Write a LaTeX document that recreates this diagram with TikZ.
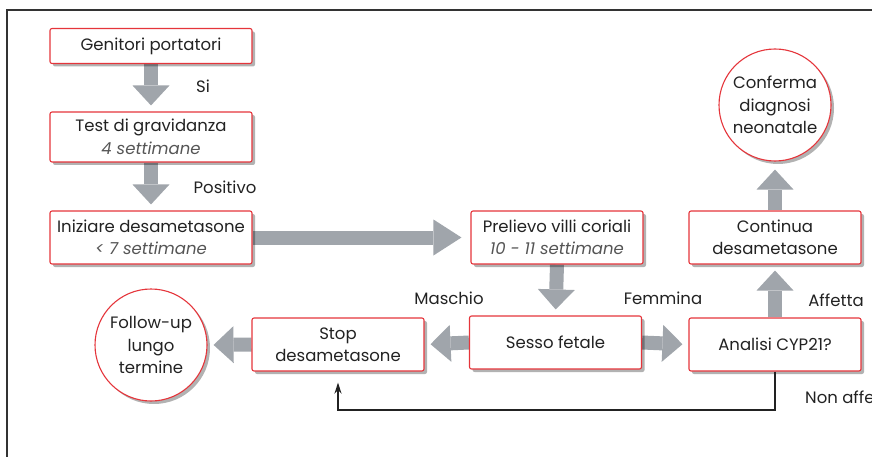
\documentclass[tikz,border=0pt]{standalone}
\usepackage{fontspec}
\setmainfont{Poppins}
\usetikzlibrary{arrows.meta,shadows,backgrounds,calc}
\definecolor{boxred}{HTML}{E5353B}
\definecolor{agray}{HTML}{A0A5AB}
\definecolor{subgray}{HTML}{555555}
\definecolor{ink}{HTML}{222222}
\definecolor{framec}{HTML}{333333}
\tikzset{
  base/.style={font=\fontsize{16.5}{22.5}\selectfont, text=ink, align=center, inner sep=0pt},
  box/.style={base, draw=boxred, line width=1.1pt, fill=white, rounded corners=2pt,
    minimum width=172pt, minimum height=53pt,
    drop shadow={shadow xshift=3pt, shadow yshift=-3pt, opacity=0.3, fill=black}},
  circ/.style={base, circle, draw=boxred, line width=1.1pt, fill=white, minimum size=112pt,
    drop shadow={shadow xshift=3pt, shadow yshift=-3pt, opacity=0.3, fill=black}},
  lbl/.style={base},
  garrow/.style={draw=agray, line width=14pt, shorten >=6pt,
    -{Triangle[width=37pt,length=20pt,line width=0pt]}},
  garrowlong/.style={draw=agray, line width=14pt, shorten >=9pt,
    -{Triangle[width=36pt,length=28pt,line width=0pt]}},
  fb/.style={draw=ink, line width=1.8pt, -{Stealth[length=11pt,width=7pt]}},
}
\newcommand{\subtxt}[1]{{\color{subgray}\itshape #1}}
\begin{document}
\begin{tikzpicture}[x=1pt,y=-1pt]
\clip (0,0) rectangle (872,457);
\draw[framec, line width=1.3pt] (7,480) -- (7,10) -- (890,10);

\node[box, minimum width=202pt, minimum height=35pt] (gen) at (151,46) {Genitori portatori};
\node[box, minimum width=202pt, minimum height=50pt] (test) at (151,137) {Test di gravidanza\\\subtxt{4 settimane}};
\node[box, minimum width=202pt] (iniz) at (151,237.5) {Iniziare desametasone\\\subtxt{< 7 settimane}};
\node[box] (prel) at (557,237.5) {Prelievo villi coriali\\\subtxt{10 - 11 settimane}};
\node[box] (sesso) at (555.5,342.5) {Sesso fetale};
\node[box] (stop) at (338,344.5) {Stop\\desametasone};
\node[box] (anal) at (775,344.5) {Analisi CYP21?};
\node[box] (cont) at (775,237.5) {Continua\\desametasone};
\node[circ] (foll) at (151,345) {Follow-up\\lungo\\termine};
\node[circ] (conf) at (775,105) {Conferma\\diagnosi\\neonatale};

\node[lbl] (si) at (203,86) {Si};
\node[lbl] (pos) at (225,187) {Positivo};
\node[lbl] (mas) at (449,298) {Maschio};
\node[lbl] (fem) at (663,298) {Femmina};
\node[lbl] (aff) at (836,300) {Affetta};
\node[lbl, anchor=west] (naff) at (805,397) {Non affetta};

\coordinate (bend) at (338,410);

\begin{scope}[on background layer]
\draw[garrow] (gen.south) -- (test.north);
\draw[garrow] (test.south) -- (iniz.north);
\draw[garrowlong] (iniz.east) -- (prel.west);
\draw[garrow] (prel.south) -- (sesso.north);
\draw[garrow] (sesso.west) -- (stop.east);
\draw[garrow] (sesso.east) -- (anal.west);
\draw[garrow] (stop.west) -- (foll.east);
\draw[garrow] (anal.north) -- (cont.south);
\draw[garrow, shorten >=8pt] (cont.north) -- (conf.south);
\end{scope}
\draw[fb] (anal.south) |- (bend) -- ($(stop.south)+(0,11)$);
\end{tikzpicture}
\end{document}
